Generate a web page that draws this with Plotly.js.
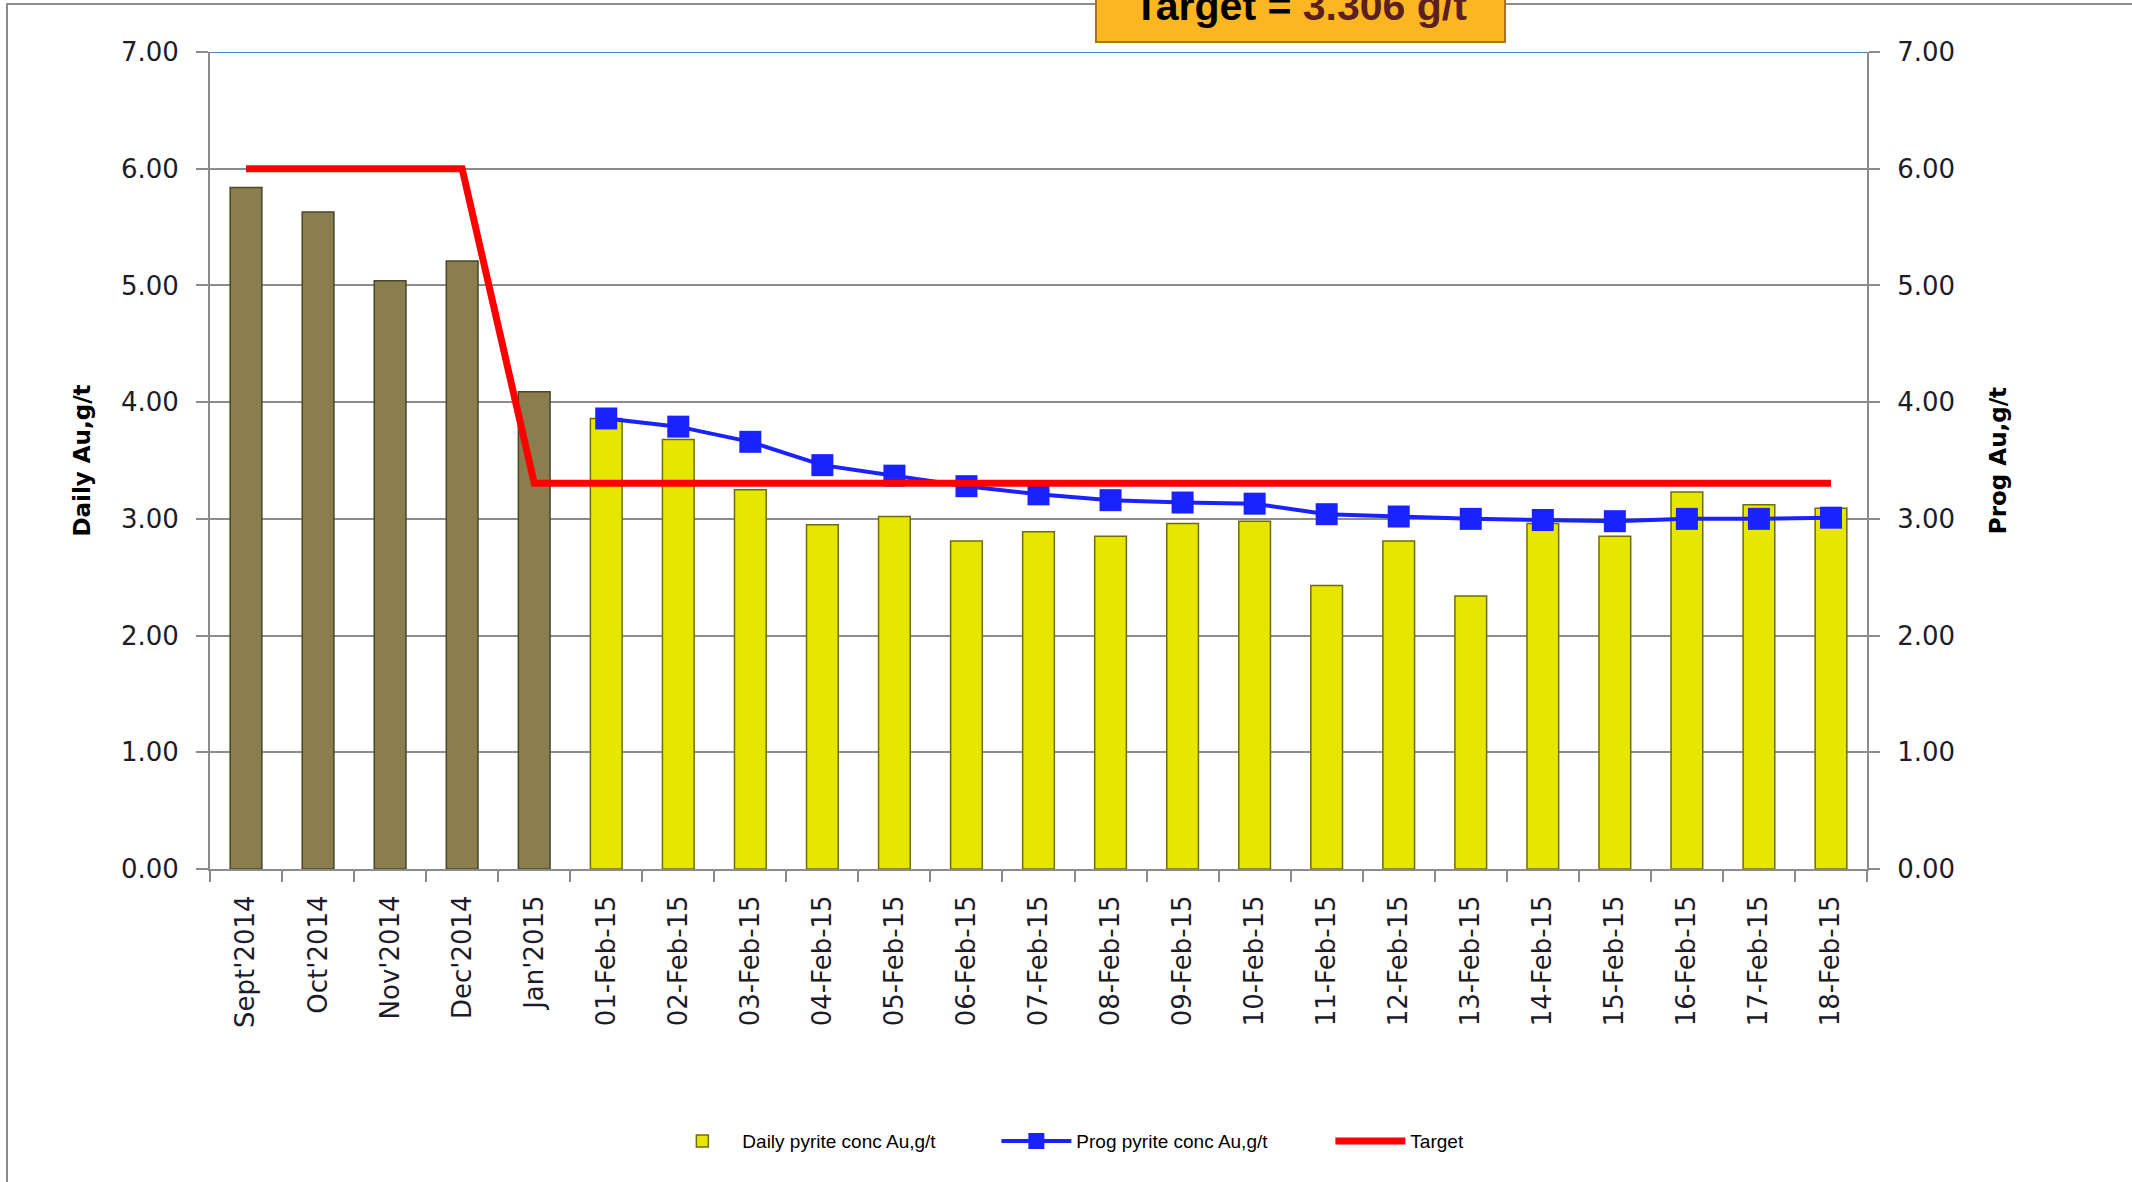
<!DOCTYPE html>
<html>
<head>
<meta charset="utf-8">
<script src="https://cdn.plot.ly/plotly-3.0.1.min.js"></script>
<style>
  html, body { margin: 0; padding: 0; background: #ffffff; overflow: hidden; }
  #frame { position: absolute; left: 6px; top: 3px; width: 2300px; height: 1400px;
           border: 2.5px solid #8c8c8c; z-index: 0; }
  #chart { position: absolute; left: 0; top: 0; width: 2132px; height: 1182px; z-index: 1; }
</style>
</head>
<body>
<div id="frame"></div>
<div id="chart"></div>
<script>
// ---- data ----
const categories = ["Sept'2014", "Oct'2014", "Nov'2014", "Dec'2014", "Jan'2015",
  "01-Feb-15", "02-Feb-15", "03-Feb-15", "04-Feb-15", "05-Feb-15", "06-Feb-15",
  "07-Feb-15", "08-Feb-15", "09-Feb-15", "10-Feb-15", "11-Feb-15", "12-Feb-15",
  "13-Feb-15", "14-Feb-15", "15-Feb-15", "16-Feb-15", "17-Feb-15", "18-Feb-15"];

const dailyConc = [5.84, 5.63, 5.04, 5.21, 4.09,
  3.86, 3.68, 3.25, 2.95, 3.02, 2.81,
  2.89, 2.85, 2.96, 2.98, 2.43, 2.81,
  2.34, 2.96, 2.85, 3.23, 3.12, 3.09];

const progConc = [null, null, null, null, null,
  3.86, 3.79, 3.66, 3.46, 3.37, 3.28,
  3.21, 3.16, 3.14, 3.13, 3.04, 3.02,
  3.00, 2.99, 2.98, 3.00, 3.00, 3.01];

const target = [6, 6, 6, 6, 3.306,
  3.306, 3.306, 3.306, 3.306, 3.306, 3.306,
  3.306, 3.306, 3.306, 3.306, 3.306, 3.306,
  3.306, 3.306, 3.306, 3.306, 3.306, 3.306];

const targetValue = 3.306;
const yTicks = [0, 1, 2, 3, 4, 5, 6, 7];

// ---- styling ----
const isMonthly = categories.map(c => c.indexOf("'") >= 0);
const dailyOnly = dailyConc.map((v, i) => isMonthly[i] ? null : v);
const monthlyOnly = dailyConc.map((v, i) => isMonthly[i] ? v : null);

const tickFont = { family: 'DejaVu Sans, Verdana, sans-serif', size: 26, color: '#1c1c2a' };
const titleFont = { family: 'DejaVu Sans, Verdana, sans-serif', size: 23, color: '#000000', weight: 'bold' };
const gridColor = '#8c8c8c';
const barWidth = 0.44;

const traces = [
  {
    type: 'bar', name: 'Daily pyrite conc Au,g/t',
    x: categories, y: dailyOnly, yaxis: 'y',
    marker: { color: '#e6e600', line: { color: '#6e6e00', width: 1.5 } },
    width: barWidth
  },
  {
    type: 'bar', name: 'Daily pyrite conc Au,g/t (monthly)', showlegend: false,
    x: categories, y: monthlyOnly, yaxis: 'y',
    marker: { color: '#8a7e4e', line: { color: '#4a4428', width: 1.5 } },
    width: barWidth
  },
  {
    type: 'scatter', mode: 'lines+markers', name: 'Prog pyrite conc Au,g/t',
    x: categories, y: progConc, yaxis: 'y2',
    line: { color: '#1a22ff', width: 4 },
    marker: { symbol: 'square', size: 22, color: '#1a22ff' },
    connectgaps: false
  },
  {
    type: 'scatter', mode: 'lines', name: 'Target',
    x: categories, y: target, yaxis: 'y2',
    line: { color: '#ff0000', width: 7 }
  }
];

const layout = {
  width: 2132, height: 1182,
  margin: { l: 210, r: 265, t: 52, b: 313 },
  paper_bgcolor: 'rgba(0,0,0,0)',
  plot_bgcolor: 'rgba(0,0,0,0)',
  showlegend: true,
  barmode: 'overlay',
  xaxis: {
    type: 'category',
    range: [-0.5, categories.length - 0.5],
    tickangle: -90,
    tickfont: tickFont,
    showline: true, linecolor: gridColor, linewidth: 2,
    ticks: 'outside', tickson: 'boundaries', ticklen: 11, tickcolor: gridColor, tickwidth: 2,
    ticklabelstandoff: 14,
    showgrid: false, zeroline: false
  },
  yaxis: {
    range: [0, 7], tickvals: yTicks, tickformat: '.2f',
    tickfont: tickFont,
    showline: true, linecolor: gridColor, linewidth: 2,
    ticks: 'outside', ticklen: 12, tickcolor: gridColor, tickwidth: 2,
    ticklabelstandoff: 12,
    showgrid: true, gridcolor: gridColor, gridwidth: 2,
    zeroline: false,
    title: { text: 'Daily Au,g/t', font: titleFont, standoff: 24 }
  },
  yaxis2: {
    range: [0, 7], tickvals: yTicks, tickformat: '.2f',
    overlaying: 'y', side: 'right',
    tickfont: tickFont,
    showline: true, linecolor: gridColor, linewidth: 2,
    ticks: 'outside', ticklen: 11, tickcolor: gridColor, tickwidth: 2,
    ticklabelstandoff: 12,
    showgrid: false, zeroline: false,
    title: { text: 'Prog Au,g/t', font: titleFont, standoff: 36 }
  },
  legend: {
    orientation: 'h', x: 0.273, xanchor: 'left', xref: 'paper',
    y: -0.333, yanchor: 'middle', yref: 'paper',
    font: { family: 'Liberation Sans, Arial, sans-serif', size: 19, color: '#000000' },
    itemwidth: 70, traceorder: 'normal',
    entrywidth: 249, entrywidthmode: 'pixels'
  },
  shapes: [
    { type: 'line', xref: 'paper', x0: 0, x1: 1, yref: 'y', y0: 7, y1: 7,
      line: { color: '#4f81bd', width: 2 }, layer: 'above' }
  ],
  annotations: [
    {
      xref: 'paper', yref: 'paper', x: 0.658, y: 1.011,
      xanchor: 'center', yanchor: 'bottom',
      text: '<b>Target = <span style="color:#5c1f1f">' + targetValue.toFixed(3) + ' g/t</span></b>',
      font: { family: 'Liberation Sans, Arial, sans-serif', size: 41, color: '#000000' },
      showarrow: false,
      bgcolor: '#fbb622', bordercolor: '#a8741a', borderwidth: 2, borderpad: 12,
      width: 383
    }
  ]
};

Plotly.newPlot('chart', traces, layout, { displayModeBar: false, staticPlot: true });
</script>
</body>
</html>
